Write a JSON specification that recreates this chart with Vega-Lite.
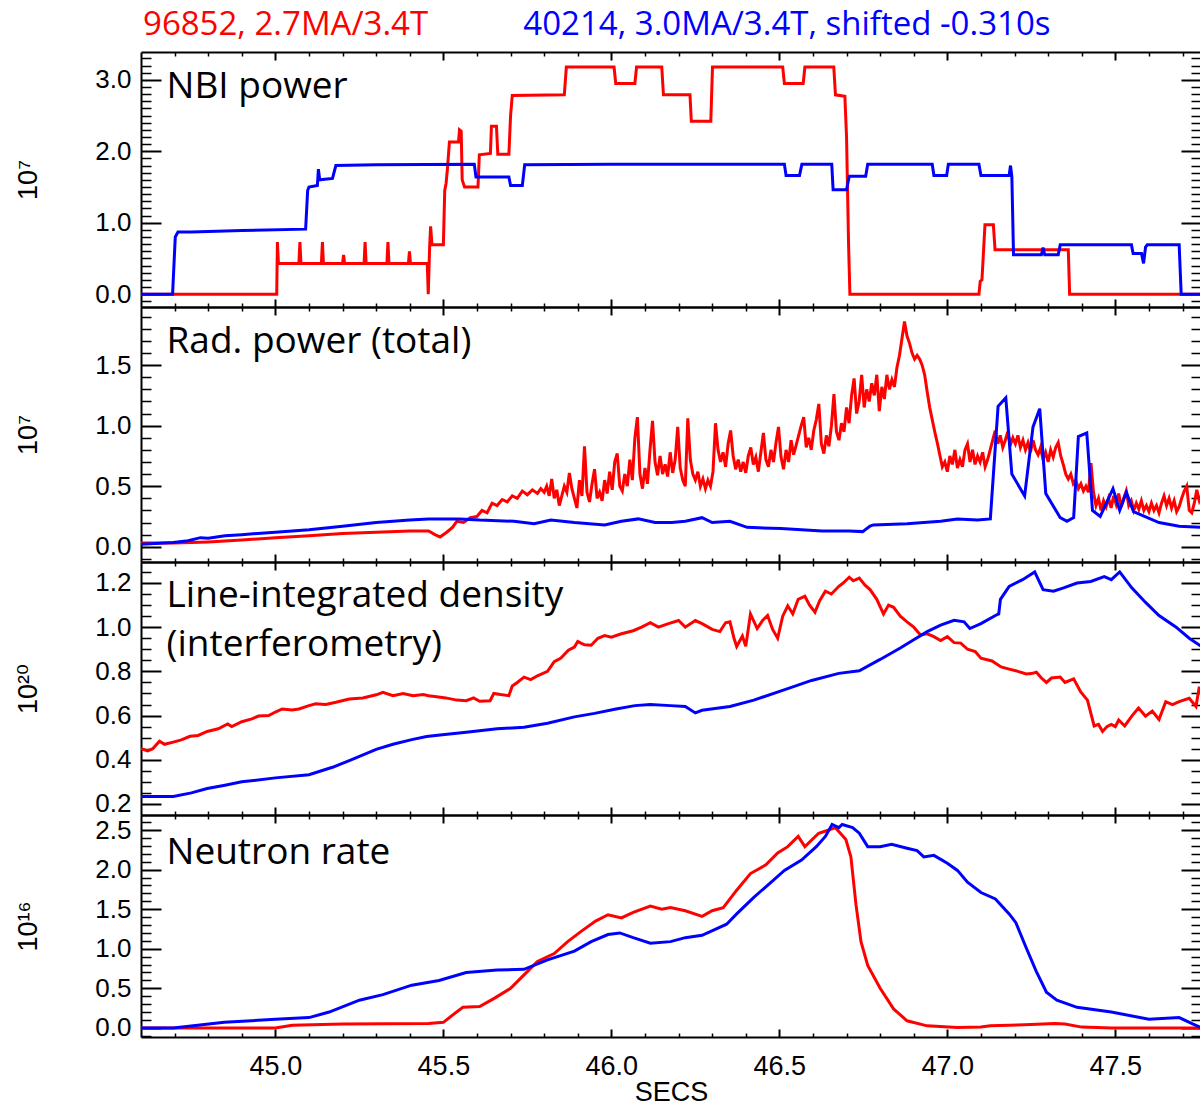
{
  "$schema": "https://vega.github.io/schema/vega-lite/v6.json",
  "autosize": {"type": "pad"},
  "padding": {"left": 14, "top": 8, "right": 0, "bottom": 0},
  "background": "white",
  "spacing": 0,
  "bounds": "flush",
  "config": {
    "view": {"stroke": null},
    "axis": {"domainColor": "black", "tickColor": "black", "labelColor": "black", "labelFont": "Liberation Sans", "labelFontSize": 26, "grid": false, "domainWidth": 2, "tickWidth": 2, "titleColor": "black", "titleFont": "Liberation Sans, DejaVu Sans", "titleFontWeight": "normal", "titleFontSize": 27}
  },
  "datasets": {
    "nbi_r": [{"t":44.6,"v":0},{"t":45.004,"v":0},{"t":45.006,"v":0.73},{"t":45.009,"v":0.43},{"t":45.07,"v":0.43},{"t":45.073,"v":0.73},{"t":45.076,"v":0.43},{"t":45.137,"v":0.43},{"t":45.14,"v":0.73},{"t":45.143,"v":0.43},{"t":45.2,"v":0.43},{"t":45.203,"v":0.55},{"t":45.206,"v":0.43},{"t":45.264,"v":0.43},{"t":45.267,"v":0.73},{"t":45.27,"v":0.43},{"t":45.332,"v":0.43},{"t":45.335,"v":0.73},{"t":45.338,"v":0.43},{"t":45.396,"v":0.43},{"t":45.399,"v":0.6},{"t":45.402,"v":0.43},{"t":45.452,"v":0.43},{"t":45.455,"v":0.0},{"t":45.459,"v":0.65},{"t":45.462,"v":0.95},{"t":45.466,"v":0.69},{"t":45.5,"v":0.69},{"t":45.504,"v":1.45},{"t":45.508,"v":1.55},{"t":45.512,"v":1.75},{"t":45.518,"v":2.13},{"t":45.545,"v":2.13},{"t":45.548,"v":2.3},{"t":45.553,"v":2.28},{"t":45.556,"v":1.6},{"t":45.563,"v":1.5},{"t":45.603,"v":1.5},{"t":45.607,"v":1.95},{"t":45.64,"v":1.97},{"t":45.643,"v":2.35},{"t":45.658,"v":2.35},{"t":45.662,"v":1.96},{"t":45.695,"v":1.96},{"t":45.7,"v":2.5},{"t":45.705,"v":2.78},{"t":45.86,"v":2.79},{"t":45.866,"v":3.18},{"t":46.008,"v":3.18},{"t":46.013,"v":2.95},{"t":46.07,"v":2.95},{"t":46.075,"v":3.18},{"t":46.15,"v":3.18},{"t":46.155,"v":2.79},{"t":46.234,"v":2.79},{"t":46.238,"v":2.42},{"t":46.296,"v":2.42},{"t":46.301,"v":3.18},{"t":46.51,"v":3.18},{"t":46.515,"v":2.95},{"t":46.571,"v":2.95},{"t":46.576,"v":3.18},{"t":46.662,"v":3.18},{"t":46.667,"v":2.79},{"t":46.695,"v":2.77},{"t":46.7,"v":2.2},{"t":46.706,"v":0.7},{"t":46.71,"v":0.0},{"t":47.094,"v":0.0},{"t":47.098,"v":0.18},{"t":47.103,"v":0.2},{"t":47.112,"v":0.97},{"t":47.137,"v":0.97},{"t":47.142,"v":0.62},{"t":47.36,"v":0.62},{"t":47.364,"v":0.0},{"t":47.756,"v":0.0}],
    "nbi_b": [{"t":44.6,"v":0},{"t":44.694,"v":0},{"t":44.702,"v":0.8},{"t":44.71,"v":0.87},{"t":44.75,"v":0.87},{"t":44.9,"v":0.89},{"t":45.09,"v":0.91},{"t":45.096,"v":1.45},{"t":45.1,"v":1.5},{"t":45.125,"v":1.52},{"t":45.128,"v":1.75},{"t":45.132,"v":1.6},{"t":45.17,"v":1.62},{"t":45.18,"v":1.8},{"t":45.3,"v":1.81},{"t":45.592,"v":1.82},{"t":45.597,"v":1.64},{"t":45.695,"v":1.64},{"t":45.7,"v":1.52},{"t":45.735,"v":1.52},{"t":45.742,"v":1.81},{"t":46.0,"v":1.82},{"t":46.515,"v":1.82},{"t":46.52,"v":1.66},{"t":46.56,"v":1.66},{"t":46.567,"v":1.82},{"t":46.656,"v":1.82},{"t":46.66,"v":1.46},{"t":46.7,"v":1.46},{"t":46.708,"v":1.65},{"t":46.757,"v":1.65},{"t":46.763,"v":1.82},{"t":46.955,"v":1.82},{"t":46.96,"v":1.66},{"t":46.998,"v":1.66},{"t":47.003,"v":1.82},{"t":47.094,"v":1.82},{"t":47.1,"v":1.66},{"t":47.184,"v":1.66},{"t":47.188,"v":1.8},{"t":47.192,"v":1.65},{"t":47.197,"v":0.55},{"t":47.28,"v":0.55},{"t":47.285,"v":0.65},{"t":47.29,"v":0.55},{"t":47.33,"v":0.55},{"t":47.336,"v":0.69},{"t":47.548,"v":0.69},{"t":47.553,"v":0.57},{"t":47.578,"v":0.57},{"t":47.584,"v":0.43},{"t":47.59,"v":0.66},{"t":47.595,"v":0.69},{"t":47.69,"v":0.69},{"t":47.696,"v":0.0},{"t":47.756,"v":0.0}],
    "rad_r": [{"t":44.6,"v":0.03},{"t":44.7,"v":0.03},{"t":44.8,"v":0.04},{"t":44.9,"v":0.055},{"t":45.0,"v":0.075},{"t":45.1,"v":0.09},{"t":45.2,"v":0.11},{"t":45.3,"v":0.12},{"t":45.4,"v":0.13},{"t":45.456,"v":0.13},{"t":45.475,"v":0.1},{"t":45.49,"v":0.08},{"t":45.51,"v":0.12},{"t":45.527,"v":0.16},{"t":45.54,"v":0.21},{"t":45.56,"v":0.2},{"t":45.58,"v":0.24},{"t":45.6,"v":0.25},{"t":45.615,"v":0.3},{"t":45.63,"v":0.28},{"t":45.645,"v":0.36},{"t":45.66,"v":0.34},{"t":45.675,"v":0.39},{"t":45.69,"v":0.37},{"t":45.705,"v":0.42},{"t":45.72,"v":0.4},{"t":45.735,"v":0.46},{"t":45.75,"v":0.43},{"t":45.765,"v":0.47},{"t":45.78,"v":0.44},{"t":45.79,"v":0.48},{"t":45.8,"v":0.45},{"t":45.8075,"v":0.5},{"t":45.815,"v":0.42},{"t":45.8225,"v":0.56},{"t":45.83,"v":0.4},{"t":45.8375,"v":0.47},{"t":45.845,"v":0.34},{"t":45.8525,"v":0.42},{"t":45.86,"v":0.5},{"t":45.8675,"v":0.45},{"t":45.875,"v":0.61},{"t":45.8825,"v":0.48},{"t":45.89,"v":0.4},{"t":45.8975,"v":0.32},{"t":45.905,"v":0.55},{"t":45.9125,"v":0.42},{"t":45.92,"v":0.83},{"t":45.9275,"v":0.45},{"t":45.935,"v":0.37},{"t":45.9425,"v":0.52},{"t":45.95,"v":0.64},{"t":45.9575,"v":0.4},{"t":45.965,"v":0.45},{"t":45.9725,"v":0.38},{"t":45.98,"v":0.55},{"t":45.9875,"v":0.44},{"t":45.995,"v":0.62},{"t":46.0025,"v":0.47},{"t":46.01,"v":0.7},{"t":46.0175,"v":0.77},{"t":46.025,"v":0.5},{"t":46.0325,"v":0.46},{"t":46.04,"v":0.6},{"t":46.0475,"v":0.5},{"t":46.055,"v":0.72},{"t":46.0625,"v":0.55},{"t":46.07,"v":0.9},{"t":46.0775,"v":1.07},{"t":46.085,"v":0.6},{"t":46.0925,"v":0.48},{"t":46.1,"v":0.65},{"t":46.1075,"v":0.52},{"t":46.115,"v":0.8},{"t":46.1225,"v":1.04},{"t":46.13,"v":0.7},{"t":46.1375,"v":0.59},{"t":46.145,"v":0.75},{"t":46.1525,"v":0.6},{"t":46.16,"v":0.68},{"t":46.1675,"v":0.58},{"t":46.175,"v":0.78},{"t":46.1825,"v":0.61},{"t":46.19,"v":0.72},{"t":46.1975,"v":0.99},{"t":46.205,"v":0.65},{"t":46.2125,"v":0.55},{"t":46.22,"v":0.5},{"t":46.2275,"v":1.06},{"t":46.235,"v":0.72},{"t":46.2425,"v":0.6},{"t":46.25,"v":0.55},{"t":46.2575,"v":0.62},{"t":46.265,"v":0.5},{"t":46.2725,"v":0.56},{"t":46.28,"v":0.48},{"t":46.2875,"v":0.55},{"t":46.295,"v":0.5},{"t":46.3025,"v":0.62},{"t":46.31,"v":1.02},{"t":46.3175,"v":0.8},{"t":46.325,"v":0.7},{"t":46.3325,"v":0.78},{"t":46.34,"v":0.66},{"t":46.3475,"v":0.85},{"t":46.355,"v":0.96},{"t":46.3625,"v":0.75},{"t":46.37,"v":0.64},{"t":46.3775,"v":0.72},{"t":46.385,"v":0.62},{"t":46.3925,"v":0.7},{"t":46.4,"v":0.61},{"t":46.4075,"v":0.75},{"t":46.415,"v":0.82},{"t":46.4225,"v":0.68},{"t":46.43,"v":0.74},{"t":46.4375,"v":0.62},{"t":46.445,"v":0.78},{"t":46.4525,"v":0.94},{"t":46.46,"v":0.72},{"t":46.4675,"v":0.66},{"t":46.475,"v":0.8},{"t":46.4825,"v":0.7},{"t":46.49,"v":0.86},{"t":46.4975,"v":0.99},{"t":46.505,"v":0.74},{"t":46.5125,"v":0.64},{"t":46.52,"v":0.8},{"t":46.5275,"v":0.7},{"t":46.535,"v":0.88},{"t":46.5425,"v":0.76},{"t":46.55,"v":0.84},{"t":46.5575,"v":0.92},{"t":46.565,"v":1.0},{"t":46.5725,"v":1.07},{"t":46.58,"v":0.82},{"t":46.5875,"v":0.9},{"t":46.595,"v":0.8},{"t":46.6025,"v":0.96},{"t":46.61,"v":1.05},{"t":46.6175,"v":1.18},{"t":46.625,"v":0.85},{"t":46.6325,"v":0.77},{"t":46.64,"v":0.92},{"t":46.6475,"v":0.83},{"t":46.655,"v":1.0},{"t":46.6625,"v":1.26},{"t":46.67,"v":0.95},{"t":46.6775,"v":0.88},{"t":46.685,"v":1.02},{"t":46.6925,"v":0.95},{"t":46.7,"v":1.15},{"t":46.7075,"v":1.02},{"t":46.715,"v":1.25},{"t":46.7225,"v":1.39},{"t":46.73,"v":1.1},{"t":46.7375,"v":1.2},{"t":46.745,"v":1.42},{"t":46.7525,"v":1.15},{"t":46.76,"v":1.3},{"t":46.7675,"v":1.2},{"t":46.775,"v":1.35},{"t":46.7825,"v":1.25},{"t":46.79,"v":1.42},{"t":46.7975,"v":1.12},{"t":46.805,"v":1.32},{"t":46.8125,"v":1.22},{"t":46.82,"v":1.42},{"t":46.8275,"v":1.3},{"t":46.835,"v":1.38},{"t":46.8425,"v":1.32},{"t":46.85,"v":1.48},{"t":46.8575,"v":1.58},{"t":46.865,"v":1.72},{"t":46.8725,"v":1.86},{"t":46.88,"v":1.74},{"t":46.8875,"v":1.68},{"t":46.895,"v":1.6},{"t":46.9025,"v":1.55},{"t":46.91,"v":1.58},{"t":46.9175,"v":1.55},{"t":46.925,"v":1.5},{"t":46.9325,"v":1.42},{"t":46.94,"v":1.28},{"t":46.9475,"v":1.15},{"t":46.955,"v":1.05},{"t":46.9625,"v":0.95},{"t":46.97,"v":0.86},{"t":46.9775,"v":0.76},{"t":46.985,"v":0.66},{"t":46.9925,"v":0.7},{"t":47.0,"v":0.62},{"t":47.0075,"v":0.75},{"t":47.015,"v":0.68},{"t":47.0225,"v":0.8},{"t":47.03,"v":0.65},{"t":47.0375,"v":0.72},{"t":47.045,"v":0.66},{"t":47.0525,"v":0.8},{"t":47.06,"v":0.85},{"t":47.0675,"v":0.7},{"t":47.075,"v":0.8},{"t":47.0825,"v":0.68},{"t":47.09,"v":0.75},{"t":47.0975,"v":0.7},{"t":47.105,"v":0.78},{"t":47.1125,"v":0.66},{"t":47.12,"v":0.72},{"t":47.1275,"v":0.8},{"t":47.135,"v":0.88},{"t":47.1425,"v":0.96},{"t":47.15,"v":0.85},{"t":47.1575,"v":0.92},{"t":47.165,"v":0.82},{"t":47.1725,"v":0.88},{"t":47.18,"v":0.95},{"t":47.1875,"v":0.84},{"t":47.195,"v":0.9},{"t":47.2025,"v":0.85},{"t":47.21,"v":0.92},{"t":47.2175,"v":0.82},{"t":47.225,"v":0.88},{"t":47.2325,"v":0.8},{"t":47.24,"v":0.86},{"t":47.2475,"v":0.78},{"t":47.255,"v":0.88},{"t":47.2625,"v":0.8},{"t":47.27,"v":0.76},{"t":47.2775,"v":0.82},{"t":47.285,"v":0.72},{"t":47.2925,"v":0.78},{"t":47.3,"v":0.7},{"t":47.3075,"v":0.8},{"t":47.315,"v":0.74},{"t":47.3225,"v":0.82},{"t":47.33,"v":0.86},{"t":47.3375,"v":0.75},{"t":47.345,"v":0.68},{"t":47.3525,"v":0.6},{"t":47.36,"v":0.56},{"t":47.3675,"v":0.6},{"t":47.375,"v":0.52},{"t":47.3825,"v":0.55},{"t":47.39,"v":0.48},{"t":47.3975,"v":0.52},{"t":47.405,"v":0.46},{"t":47.4125,"v":0.5},{"t":47.42,"v":0.45},{"t":47.4275,"v":0.69},{"t":47.435,"v":0.45},{"t":47.4425,"v":0.34},{"t":47.45,"v":0.4},{"t":47.4575,"v":0.3},{"t":47.465,"v":0.38},{"t":47.4725,"v":0.33},{"t":47.48,"v":0.4},{"t":47.4875,"v":0.32},{"t":47.495,"v":0.42},{"t":47.5025,"v":0.35},{"t":47.51,"v":0.44},{"t":47.5175,"v":0.33},{"t":47.525,"v":0.4},{"t":47.5325,"v":0.46},{"t":47.54,"v":0.34},{"t":47.5475,"v":0.38},{"t":47.555,"v":0.3},{"t":47.5625,"v":0.36},{"t":47.57,"v":0.31},{"t":47.5775,"v":0.38},{"t":47.585,"v":0.3},{"t":47.5925,"v":0.34},{"t":47.6,"v":0.29},{"t":47.6075,"v":0.36},{"t":47.615,"v":0.3},{"t":47.6225,"v":0.34},{"t":47.63,"v":0.28},{"t":47.6375,"v":0.36},{"t":47.645,"v":0.42},{"t":47.6525,"v":0.34},{"t":47.66,"v":0.4},{"t":47.6675,"v":0.32},{"t":47.675,"v":0.38},{"t":47.6825,"v":0.29},{"t":47.69,"v":0.33},{"t":47.6975,"v":0.4},{"t":47.705,"v":0.46},{"t":47.7125,"v":0.5},{"t":47.72,"v":0.3},{"t":47.7275,"v":0.28},{"t":47.735,"v":0.36},{"t":47.7425,"v":0.47},{"t":47.75,"v":0.38},{"t":47.756,"v":0.42}],
    "rad_b": [{"t":44.6,"v":0.02},{"t":44.696,"v":0.035},{"t":44.74,"v":0.05},{"t":44.777,"v":0.075},{"t":44.8,"v":0.07},{"t":44.85,"v":0.09},{"t":44.9,"v":0.1},{"t":45.0,"v":0.12},{"t":45.1,"v":0.14},{"t":45.2,"v":0.17},{"t":45.3,"v":0.2},{"t":45.4,"v":0.22},{"t":45.456,"v":0.23},{"t":45.55,"v":0.23},{"t":45.608,"v":0.22},{"t":45.71,"v":0.21},{"t":45.77,"v":0.19},{"t":45.82,"v":0.22},{"t":45.89,"v":0.2},{"t":45.98,"v":0.18},{"t":46.03,"v":0.21},{"t":46.08,"v":0.23},{"t":46.13,"v":0.2},{"t":46.18,"v":0.2},{"t":46.22,"v":0.21},{"t":46.27,"v":0.24},{"t":46.3,"v":0.2},{"t":46.353,"v":0.21},{"t":46.404,"v":0.16},{"t":46.505,"v":0.15},{"t":46.627,"v":0.13},{"t":46.708,"v":0.13},{"t":46.748,"v":0.125},{"t":46.77,"v":0.17},{"t":46.78,"v":0.18},{"t":46.88,"v":0.19},{"t":46.98,"v":0.21},{"t":47.03,"v":0.23},{"t":47.09,"v":0.22},{"t":47.128,"v":0.23},{"t":47.151,"v":1.16},{"t":47.174,"v":1.23},{"t":47.192,"v":0.6},{"t":47.23,"v":0.42},{"t":47.255,"v":0.99},{"t":47.275,"v":1.14},{"t":47.293,"v":0.44},{"t":47.336,"v":0.24},{"t":47.356,"v":0.21},{"t":47.376,"v":0.24},{"t":47.39,"v":0.91},{"t":47.415,"v":0.94},{"t":47.432,"v":0.3},{"t":47.455,"v":0.25},{"t":47.493,"v":0.48},{"t":47.513,"v":0.3},{"t":47.533,"v":0.45},{"t":47.554,"v":0.29},{"t":47.63,"v":0.2},{"t":47.69,"v":0.17},{"t":47.756,"v":0.16}],
    "den_r": [{"t":44.6,"v":0.45},{"t":44.62,"v":0.44},{"t":44.635,"v":0.45},{"t":44.655,"v":0.484},{"t":44.67,"v":0.47},{"t":44.696,"v":0.48},{"t":44.72,"v":0.49},{"t":44.746,"v":0.506},{"t":44.77,"v":0.51},{"t":44.797,"v":0.528},{"t":44.83,"v":0.54},{"t":44.858,"v":0.562},{"t":44.87,"v":0.55},{"t":44.9,"v":0.572},{"t":44.93,"v":0.585},{"t":44.95,"v":0.598},{"t":44.98,"v":0.6},{"t":45.0,"v":0.616},{"t":45.02,"v":0.63},{"t":45.05,"v":0.625},{"t":45.07,"v":0.63},{"t":45.1,"v":0.645},{"t":45.12,"v":0.653},{"t":45.15,"v":0.65},{"t":45.18,"v":0.66},{"t":45.22,"v":0.675},{"t":45.26,"v":0.68},{"t":45.3,"v":0.694},{"t":45.32,"v":0.705},{"t":45.35,"v":0.69},{"t":45.38,"v":0.7},{"t":45.41,"v":0.69},{"t":45.44,"v":0.695},{"t":45.456,"v":0.69},{"t":45.48,"v":0.685},{"t":45.507,"v":0.68},{"t":45.54,"v":0.67},{"t":45.568,"v":0.667},{"t":45.59,"v":0.68},{"t":45.608,"v":0.665},{"t":45.639,"v":0.667},{"t":45.65,"v":0.7},{"t":45.67,"v":0.695},{"t":45.695,"v":0.69},{"t":45.705,"v":0.734},{"t":45.72,"v":0.75},{"t":45.74,"v":0.774},{"t":45.76,"v":0.763},{"t":45.78,"v":0.78},{"t":45.81,"v":0.8},{"t":45.83,"v":0.844},{"t":45.85,"v":0.86},{"t":45.872,"v":0.896},{"t":45.89,"v":0.91},{"t":45.9,"v":0.935},{"t":45.92,"v":0.92},{"t":45.94,"v":0.918},{"t":45.96,"v":0.95},{"t":45.98,"v":0.962},{"t":46.0,"v":0.955},{"t":46.03,"v":0.97},{"t":46.065,"v":0.984},{"t":46.09,"v":1.0},{"t":46.116,"v":1.02},{"t":46.14,"v":1.0},{"t":46.17,"v":1.016},{"t":46.2,"v":1.03},{"t":46.22,"v":1.0},{"t":46.25,"v":1.03},{"t":46.27,"v":1.016},{"t":46.3,"v":0.99},{"t":46.323,"v":0.98},{"t":46.34,"v":1.02},{"t":46.353,"v":1.024},{"t":46.365,"v":0.95},{"t":46.373,"v":0.913},{"t":46.39,"v":0.96},{"t":46.4,"v":0.913},{"t":46.414,"v":1.06},{"t":46.434,"v":0.994},{"t":46.45,"v":1.03},{"t":46.465,"v":1.053},{"t":46.48,"v":0.99},{"t":46.495,"v":0.95},{"t":46.51,"v":1.05},{"t":46.525,"v":1.097},{"t":46.54,"v":1.06},{"t":46.556,"v":1.126},{"t":46.576,"v":1.14},{"t":46.59,"v":1.1},{"t":46.606,"v":1.068},{"t":46.62,"v":1.12},{"t":46.637,"v":1.163},{"t":46.655,"v":1.15},{"t":46.677,"v":1.185},{"t":46.69,"v":1.2},{"t":46.708,"v":1.226},{"t":46.72,"v":1.21},{"t":46.738,"v":1.222},{"t":46.755,"v":1.19},{"t":46.77,"v":1.17},{"t":46.79,"v":1.126},{"t":46.81,"v":1.06},{"t":46.825,"v":1.1},{"t":46.84,"v":1.09},{"t":46.86,"v":1.05},{"t":46.88,"v":1.024},{"t":46.9,"v":1.0},{"t":46.92,"v":0.965},{"t":46.94,"v":0.97},{"t":46.96,"v":0.957},{"t":46.98,"v":0.94},{"t":47.0,"v":0.957},{"t":47.02,"v":0.93},{"t":47.04,"v":0.928},{"t":47.06,"v":0.9},{"t":47.083,"v":0.89},{"t":47.1,"v":0.86},{"t":47.133,"v":0.847},{"t":47.16,"v":0.82},{"t":47.184,"v":0.81},{"t":47.21,"v":0.8},{"t":47.235,"v":0.788},{"t":47.25,"v":0.79},{"t":47.265,"v":0.796},{"t":47.28,"v":0.77},{"t":47.295,"v":0.75},{"t":47.31,"v":0.77},{"t":47.336,"v":0.774},{"t":47.35,"v":0.75},{"t":47.376,"v":0.766},{"t":47.397,"v":0.707},{"t":47.417,"v":0.67},{"t":47.437,"v":0.553},{"t":47.45,"v":0.56},{"t":47.462,"v":0.528},{"t":47.475,"v":0.55},{"t":47.488,"v":0.56},{"t":47.5,"v":0.55},{"t":47.51,"v":0.58},{"t":47.528,"v":0.553},{"t":47.55,"v":0.6},{"t":47.569,"v":0.634},{"t":47.59,"v":0.597},{"t":47.61,"v":0.62},{"t":47.63,"v":0.582},{"t":47.65,"v":0.663},{"t":47.67,"v":0.65},{"t":47.69,"v":0.663},{"t":47.72,"v":0.678},{"t":47.74,"v":0.641},{"t":47.75,"v":0.73},{"t":47.756,"v":0.7}],
    "den_b": [{"t":44.6,"v":0.234},{"t":44.696,"v":0.234},{"t":44.75,"v":0.25},{"t":44.797,"v":0.27},{"t":44.85,"v":0.285},{"t":44.9,"v":0.3},{"t":45.0,"v":0.318},{"t":45.1,"v":0.332},{"t":45.17,"v":0.366},{"t":45.22,"v":0.396},{"t":45.3,"v":0.447},{"t":45.35,"v":0.47},{"t":45.406,"v":0.491},{"t":45.45,"v":0.505},{"t":45.497,"v":0.513},{"t":45.568,"v":0.524},{"t":45.66,"v":0.54},{"t":45.74,"v":0.547},{"t":45.81,"v":0.565},{"t":45.89,"v":0.594},{"t":45.95,"v":0.61},{"t":46.014,"v":0.63},{"t":46.07,"v":0.645},{"t":46.116,"v":0.65},{"t":46.176,"v":0.645},{"t":46.22,"v":0.641},{"t":46.25,"v":0.612},{"t":46.27,"v":0.624},{"t":46.353,"v":0.641},{"t":46.424,"v":0.67},{"t":46.525,"v":0.722},{"t":46.596,"v":0.759},{"t":46.677,"v":0.791},{"t":46.738,"v":0.803},{"t":46.8,"v":0.854},{"t":46.86,"v":0.906},{"t":46.9,"v":0.943},{"t":46.94,"v":0.98},{"t":46.98,"v":1.009},{"t":47.02,"v":1.031},{"t":47.05,"v":1.024},{"t":47.067,"v":0.994},{"t":47.1,"v":1.016},{"t":47.143,"v":1.053},{"t":47.153,"v":1.06},{"t":47.158,"v":1.126},{"t":47.184,"v":1.185},{"t":47.224,"v":1.215},{"t":47.26,"v":1.25},{"t":47.285,"v":1.17},{"t":47.316,"v":1.163},{"t":47.346,"v":1.178},{"t":47.386,"v":1.2},{"t":47.427,"v":1.207},{"t":47.467,"v":1.229},{"t":47.488,"v":1.215},{"t":47.513,"v":1.25},{"t":47.549,"v":1.178},{"t":47.59,"v":1.112},{"t":47.63,"v":1.053},{"t":47.68,"v":1.001},{"t":47.72,"v":0.95},{"t":47.756,"v":0.913}],
    "neu_r": [{"t":44.6,"v":0},{"t":45.0,"v":0},{"t":45.05,"v":0.034},{"t":45.2,"v":0.05},{"t":45.456,"v":0.055},{"t":45.5,"v":0.07},{"t":45.53,"v":0.17},{"t":45.558,"v":0.26},{"t":45.608,"v":0.27},{"t":45.65,"v":0.37},{"t":45.7,"v":0.5},{"t":45.74,"v":0.67},{"t":45.78,"v":0.84},{"t":45.83,"v":0.94},{"t":45.87,"v":1.09},{"t":45.91,"v":1.22},{"t":45.953,"v":1.35},{"t":45.99,"v":1.43},{"t":46.03,"v":1.39},{"t":46.065,"v":1.46},{"t":46.116,"v":1.54},{"t":46.15,"v":1.5},{"t":46.176,"v":1.52},{"t":46.22,"v":1.48},{"t":46.27,"v":1.41},{"t":46.3,"v":1.48},{"t":46.333,"v":1.52},{"t":46.373,"v":1.74},{"t":46.414,"v":1.95},{"t":46.46,"v":2.06},{"t":46.495,"v":2.21},{"t":46.525,"v":2.29},{"t":46.556,"v":2.42},{"t":46.576,"v":2.29},{"t":46.617,"v":2.46},{"t":46.647,"v":2.5},{"t":46.667,"v":2.53},{"t":46.698,"v":2.38},{"t":46.713,"v":2.16},{"t":46.728,"v":1.56},{"t":46.743,"v":1.09},{"t":46.763,"v":0.79},{"t":46.8,"v":0.5},{"t":46.84,"v":0.24},{"t":46.88,"v":0.09},{"t":46.94,"v":0.026},{"t":47.03,"v":0.004},{"t":47.1,"v":0.01},{"t":47.128,"v":0.026},{"t":47.23,"v":0.04},{"t":47.32,"v":0.055},{"t":47.35,"v":0.05},{"t":47.4,"v":0.01},{"t":47.49,"v":0},{"t":47.756,"v":0}],
    "neu_b": [{"t":44.6,"v":0},{"t":44.696,"v":0},{"t":44.848,"v":0.07},{"t":45.0,"v":0.11},{"t":45.1,"v":0.13},{"t":45.16,"v":0.2},{"t":45.25,"v":0.35},{"t":45.32,"v":0.42},{"t":45.406,"v":0.54},{"t":45.487,"v":0.6},{"t":45.568,"v":0.7},{"t":45.66,"v":0.73},{"t":45.74,"v":0.74},{"t":45.81,"v":0.86},{"t":45.89,"v":0.97},{"t":45.94,"v":1.09},{"t":45.99,"v":1.18},{"t":46.025,"v":1.2},{"t":46.065,"v":1.14},{"t":46.116,"v":1.07},{"t":46.176,"v":1.09},{"t":46.22,"v":1.14},{"t":46.27,"v":1.17},{"t":46.343,"v":1.31},{"t":46.373,"v":1.44},{"t":46.424,"v":1.65},{"t":46.475,"v":1.84},{"t":46.515,"v":1.99},{"t":46.566,"v":2.12},{"t":46.61,"v":2.29},{"t":46.637,"v":2.42},{"t":46.657,"v":2.57},{"t":46.677,"v":2.53},{"t":46.687,"v":2.57},{"t":46.718,"v":2.53},{"t":46.738,"v":2.46},{"t":46.763,"v":2.29},{"t":46.8,"v":2.29},{"t":46.834,"v":2.32},{"t":46.88,"v":2.27},{"t":46.91,"v":2.24},{"t":46.93,"v":2.16},{"t":46.96,"v":2.18},{"t":47.0,"v":2.08},{"t":47.03,"v":1.99},{"t":47.06,"v":1.84},{"t":47.1,"v":1.71},{"t":47.143,"v":1.63},{"t":47.184,"v":1.44},{"t":47.204,"v":1.33},{"t":47.235,"v":1.01},{"t":47.265,"v":0.71},{"t":47.295,"v":0.45},{"t":47.326,"v":0.35},{"t":47.386,"v":0.26},{"t":47.488,"v":0.2},{"t":47.6,"v":0.11},{"t":47.69,"v":0.13},{"t":47.73,"v":0.05},{"t":47.756,"v":0.004}],
    "one": [{}]
  },
  "vconcat": [
    {
      "width": 1060, "height": 255,
      "resolve": {"axis": {"x": "independent", "y": "independent"}},
      "layer": [
        {
          "data": {"name": "nbi_r"},
          "mark": {"type": "line", "color": "#ff0000", "strokeWidth": 3, "clip": true},
          "encoding": {
            "x": {"field": "t", "type": "quantitative", "scale": {"domain": [44.6, 47.755], "nice": false, "zero": false}, "axis": {"orient": "bottom", "values": [45, 45.5, 46, 46.5, 47, 47.5], "labels": false, "tickSize": -8, "title": null}},
            "y": {"field": "v", "type": "quantitative", "scale": {"domain": [-0.18, 3.39], "nice": false, "zero": false}, "axis": {"orient": "left", "values": [0, 1, 2, 3], "format": ".1f", "tickSize": -20, "labelPadding": 30, "title": "10⁷", "titlePadding": 52}}
          }
        },
        {
          "data": {"name": "nbi_b"},
          "mark": {"type": "line", "color": "#0000ff", "strokeWidth": 3, "clip": true},
          "encoding": {
            "x": {"field": "t", "type": "quantitative", "axis": {"orient": "top", "values": [45, 45.5, 46, 46.5, 47, 47.5], "labels": false, "tickSize": -8, "title": null}},
            "y": {"field": "v", "type": "quantitative", "axis": {"orient": "right", "values": [0, 1, 2, 3], "labels": false, "tickSize": -20, "title": null, "domainDash": [2, 3], "domainWidth": 1.5}}
          }
        },
        {
          "data": {"name": "one"},
          "mark": {"type": "text", "align": "left", "baseline": "alphabetic", "font": "Open Sans", "fontSize": 37, "color": "black"},
          "encoding": {
            "x": {"datum": 44.676, "type": "quantitative", "axis": {"orient": "bottom", "values": [44.7,44.8,44.9,45.1,45.2,45.3,45.4,45.6,45.7,45.8,45.9,46.1,46.2,46.3,46.4,46.6,46.7,46.8,46.9,47.1,47.2,47.3,47.4,47.6,47.7], "labels": false, "domain": false, "tickSize": -4, "tickWidth": 1.5, "title": null}},
            "y": {"datum": 2.75, "type": "quantitative", "axis": {"orient": "left", "values": [-0.1,0.1,0.2,0.3,0.4,0.5,0.6,0.7,0.8,0.9,1.1,1.2,1.3,1.4,1.5,1.6,1.7,1.8,1.9,2.1,2.2,2.3,2.4,2.5,2.6,2.7,2.8,2.9,3.1,3.2,3.3], "labels": false, "domain": false, "tickSize": -10, "tickWidth": 1.5, "title": null}},
            "text": {"value": "NBI power"}
          }
        },
        {
          "data": {"name": "one"},
          "mark": {"type": "text", "align": "left", "baseline": "alphabetic", "font": "Open Sans", "fontSize": 33, "color": "#ff0000"},
          "encoding": {
            "x": {"datum": 44.606, "type": "quantitative", "axis": {"orient": "top", "values": [44.7,44.8,44.9,45.1,45.2,45.3,45.4,45.6,45.7,45.8,45.9,46.1,46.2,46.3,46.4,46.6,46.7,46.8,46.9,47.1,47.2,47.3,47.4,47.6,47.7], "labels": false, "domain": false, "tickSize": -4, "tickWidth": 1.5, "title": null}},
            "y": {"datum": 3.63, "type": "quantitative", "axis": {"orient": "right", "values": [-0.1,0.1,0.2,0.3,0.4,0.5,0.6,0.7,0.8,0.9,1.1,1.2,1.3,1.4,1.5,1.6,1.7,1.8,1.9,2.1,2.2,2.3,2.4,2.5,2.6,2.7,2.8,2.9,3.1,3.2,3.3], "labels": false, "domain": false, "tickSize": -10, "tickWidth": 1.5, "title": null}},
            "text": {"value": "96852, 2.7MA/3.4T"}
          }
        },
        {
          "data": {"name": "one"},
          "mark": {"type": "text", "align": "left", "baseline": "alphabetic", "font": "Open Sans", "fontSize": 33, "color": "#0000ff"},
          "encoding": {
            "x": {"datum": 45.738, "type": "quantitative", "axis": null},
            "y": {"datum": 3.63, "type": "quantitative", "axis": null},
            "text": {"value": "40214, 3.0MA/3.4T, shifted -0.310s"}
          }
        }
      ]
    },
    {
      "width": 1060, "height": 255,
      "resolve": {"axis": {"x": "independent", "y": "independent"}},
      "layer": [
        {
          "data": {"name": "rad_r"},
          "mark": {"type": "line", "color": "#ff0000", "strokeWidth": 3, "clip": true},
          "encoding": {
            "x": {"field": "t", "type": "quantitative", "scale": {"domain": [44.6, 47.755], "nice": false, "zero": false}, "axis": {"orient": "bottom", "values": [45, 45.5, 46, 46.5, 47, 47.5], "labels": false, "tickSize": -8, "title": null}},
            "y": {"field": "v", "type": "quantitative", "scale": {"domain": [-0.126, 1.98], "nice": false, "zero": false}, "axis": {"orient": "left", "values": [0, 0.5, 1, 1.5], "format": ".1f", "tickSize": -20, "labelPadding": 30, "title": "10⁷", "titlePadding": 52}}
          }
        },
        {
          "data": {"name": "rad_b"},
          "mark": {"type": "line", "color": "#0000ff", "strokeWidth": 3, "clip": true},
          "encoding": {
            "x": {"field": "t", "type": "quantitative", "axis": {"orient": "top", "values": [45, 45.5, 46, 46.5, 47, 47.5], "labels": false, "tickSize": -8, "title": null}},
            "y": {"field": "v", "type": "quantitative", "axis": {"orient": "right", "values": [0, 0.5, 1, 1.5], "labels": false, "tickSize": -20, "title": null, "domainDash": [2, 3], "domainWidth": 1.5}}
          }
        },
        {
          "data": {"name": "one"},
          "mark": {"type": "text", "align": "left", "baseline": "alphabetic", "font": "Open Sans", "fontSize": 37, "color": "black"},
          "encoding": {
            "x": {"datum": 44.676, "type": "quantitative", "axis": {"orient": "bottom", "values": [44.7,44.8,44.9,45.1,45.2,45.3,45.4,45.6,45.7,45.8,45.9,46.1,46.2,46.3,46.4,46.6,46.7,46.8,46.9,47.1,47.2,47.3,47.4,47.6,47.7], "labels": false, "domain": false, "tickSize": -4, "tickWidth": 1.5, "title": null}},
            "y": {"datum": 1.6, "type": "quantitative", "axis": {"orient": "left", "values": [-0.1,0.1,0.2,0.3,0.4,0.6,0.7,0.8,0.9,1.1,1.2,1.3,1.4,1.6,1.7,1.8,1.9], "labels": false, "domain": false, "tickSize": -10, "tickWidth": 1.5, "title": null}},
            "text": {"value": "Rad. power (total)"}
          }
        },
        {
          "data": {"name": "one"},
          "mark": {"type": "text", "text": ""},
          "encoding": {
            "x": {"datum": 44.7, "type": "quantitative", "axis": {"orient": "top", "values": [44.7,44.8,44.9,45.1,45.2,45.3,45.4,45.6,45.7,45.8,45.9,46.1,46.2,46.3,46.4,46.6,46.7,46.8,46.9,47.1,47.2,47.3,47.4,47.6,47.7], "labels": false, "domain": false, "tickSize": -4, "tickWidth": 1.5, "title": null}},
            "y": {"datum": 1.0, "type": "quantitative", "axis": {"orient": "right", "values": [-0.1,0.1,0.2,0.3,0.4,0.6,0.7,0.8,0.9,1.1,1.2,1.3,1.4,1.6,1.7,1.8,1.9], "labels": false, "domain": false, "tickSize": -10, "tickWidth": 1.5, "title": null}}
          }
        }
      ]
    },
    {
      "width": 1060, "height": 253,
      "resolve": {"axis": {"x": "independent", "y": "independent"}},
      "layer": [
        {
          "data": {"name": "den_r"},
          "mark": {"type": "line", "color": "#ff0000", "strokeWidth": 3, "clip": true},
          "encoding": {
            "x": {"field": "t", "type": "quantitative", "scale": {"domain": [44.6, 47.755], "nice": false, "zero": false}, "axis": {"orient": "bottom", "values": [45, 45.5, 46, 46.5, 47, 47.5], "labels": false, "tickSize": -8, "title": null}},
            "y": {"field": "v", "type": "quantitative", "scale": {"domain": [0.15, 1.295], "nice": false, "zero": false}, "axis": {"orient": "left", "values": [0.2, 0.4, 0.6, 0.8, 1.0, 1.2], "format": ".1f", "tickSize": -20, "labelPadding": 30, "title": "10²⁰", "titlePadding": 52}}
          }
        },
        {
          "data": {"name": "den_b"},
          "mark": {"type": "line", "color": "#0000ff", "strokeWidth": 3, "clip": true},
          "encoding": {
            "x": {"field": "t", "type": "quantitative", "axis": {"orient": "top", "values": [45, 45.5, 46, 46.5, 47, 47.5], "labels": false, "tickSize": -8, "title": null}},
            "y": {"field": "v", "type": "quantitative", "axis": {"orient": "right", "values": [0.2, 0.4, 0.6, 0.8, 1.0, 1.2], "labels": false, "tickSize": -20, "title": null, "domainDash": [2, 3], "domainWidth": 1.5}}
          }
        },
        {
          "data": {"name": "one"},
          "mark": {"type": "text", "align": "left", "baseline": "alphabetic", "font": "Open Sans", "fontSize": 37, "color": "black", "lineHeight": 49},
          "encoding": {
            "x": {"datum": 44.676, "type": "quantitative", "axis": {"orient": "bottom", "values": [44.7,44.8,44.9,45.1,45.2,45.3,45.4,45.6,45.7,45.8,45.9,46.1,46.2,46.3,46.4,46.6,46.7,46.8,46.9,47.1,47.2,47.3,47.4,47.6,47.7], "labels": false, "domain": false, "tickSize": -4, "tickWidth": 1.5, "title": null}},
            "y": {"datum": 1.09, "type": "quantitative", "axis": {"orient": "left", "values": [0.25,0.3,0.35,0.45,0.5,0.55,0.65,0.7,0.75,0.85,0.9,0.95,1.05,1.1,1.15,1.25], "labels": false, "domain": false, "tickSize": -10, "tickWidth": 1.5, "title": null}},
            "text": {"value": ["Line-integrated density", "(interferometry)"]}
          }
        },
        {
          "data": {"name": "one"},
          "mark": {"type": "text", "text": ""},
          "encoding": {
            "x": {"datum": 44.7, "type": "quantitative", "axis": {"orient": "top", "values": [44.7,44.8,44.9,45.1,45.2,45.3,45.4,45.6,45.7,45.8,45.9,46.1,46.2,46.3,46.4,46.6,46.7,46.8,46.9,47.1,47.2,47.3,47.4,47.6,47.7], "labels": false, "domain": false, "tickSize": -4, "tickWidth": 1.5, "title": null}},
            "y": {"datum": 0.5, "type": "quantitative", "axis": {"orient": "right", "values": [0.25,0.3,0.35,0.45,0.5,0.55,0.65,0.7,0.75,0.85,0.9,0.95,1.05,1.1,1.15,1.25], "labels": false, "domain": false, "tickSize": -10, "tickWidth": 1.5, "title": null}}
          }
        }
      ]
    },
    {
      "width": 1060, "height": 222,
      "resolve": {"axis": {"x": "independent", "y": "independent"}},
      "layer": [
        {
          "data": {"name": "neu_r"},
          "mark": {"type": "line", "color": "#ff0000", "strokeWidth": 3, "clip": true},
          "encoding": {
            "x": {"field": "t", "type": "quantitative", "scale": {"domain": [44.6, 47.755], "nice": false, "zero": false}, "axis": {"orient": "bottom", "values": [45, 45.5, 46, 46.5, 47, 47.5], "format": ".1f", "tickSize": -8, "labelPadding": 24, "labelFontSize": 27, "title": "SECS", "titleFontSize": 27, "titlePadding": 0}},
            "y": {"field": "v", "type": "quantitative", "scale": {"domain": [-0.115, 2.69], "nice": false, "zero": false}, "axis": {"orient": "left", "values": [0, 0.5, 1, 1.5, 2, 2.5], "format": ".1f", "tickSize": -20, "labelPadding": 30, "title": "10¹⁶", "titlePadding": 52}}
          }
        },
        {
          "data": {"name": "neu_b"},
          "mark": {"type": "line", "color": "#0000ff", "strokeWidth": 3, "clip": true},
          "encoding": {
            "x": {"field": "t", "type": "quantitative", "axis": {"orient": "top", "values": [45, 45.5, 46, 46.5, 47, 47.5], "labels": false, "tickSize": -8, "title": null}},
            "y": {"field": "v", "type": "quantitative", "axis": {"orient": "right", "values": [0, 0.5, 1, 1.5, 2, 2.5], "labels": false, "tickSize": -20, "title": null, "domainDash": [2, 3], "domainWidth": 1.5}}
          }
        },
        {
          "data": {"name": "one"},
          "mark": {"type": "text", "align": "left", "baseline": "alphabetic", "font": "Open Sans", "fontSize": 37, "color": "black"},
          "encoding": {
            "x": {"datum": 44.676, "type": "quantitative", "axis": {"orient": "bottom", "values": [44.7,44.8,44.9,45.1,45.2,45.3,45.4,45.6,45.7,45.8,45.9,46.1,46.2,46.3,46.4,46.6,46.7,46.8,46.9,47.1,47.2,47.3,47.4,47.6,47.7], "labels": false, "domain": false, "tickSize": -4, "tickWidth": 1.5, "title": null}},
            "y": {"datum": 2.07, "type": "quantitative", "axis": {"orient": "left", "values": [-0.1,0.1,0.2,0.3,0.4,0.6,0.7,0.8,0.9,1.1,1.2,1.3,1.4,1.6,1.7,1.8,1.9,2.1,2.2,2.3,2.4,2.6], "labels": false, "domain": false, "tickSize": -10, "tickWidth": 1.5, "title": null}},
            "text": {"value": "Neutron rate"}
          }
        },
        {
          "data": {"name": "one"},
          "mark": {"type": "text", "text": ""},
          "encoding": {
            "x": {"datum": 44.7, "type": "quantitative", "axis": {"orient": "top", "values": [44.7,44.8,44.9,45.1,45.2,45.3,45.4,45.6,45.7,45.8,45.9,46.1,46.2,46.3,46.4,46.6,46.7,46.8,46.9,47.1,47.2,47.3,47.4,47.6,47.7], "labels": false, "domain": false, "tickSize": -4, "tickWidth": 1.5, "title": null}},
            "y": {"datum": 1.0, "type": "quantitative", "axis": {"orient": "right", "values": [-0.1,0.1,0.2,0.3,0.4,0.6,0.7,0.8,0.9,1.1,1.2,1.3,1.4,1.6,1.7,1.8,1.9,2.1,2.2,2.3,2.4,2.6], "labels": false, "domain": false, "tickSize": -10, "tickWidth": 1.5, "title": null}}
          }
        }
      ]
    }
  ]
}
